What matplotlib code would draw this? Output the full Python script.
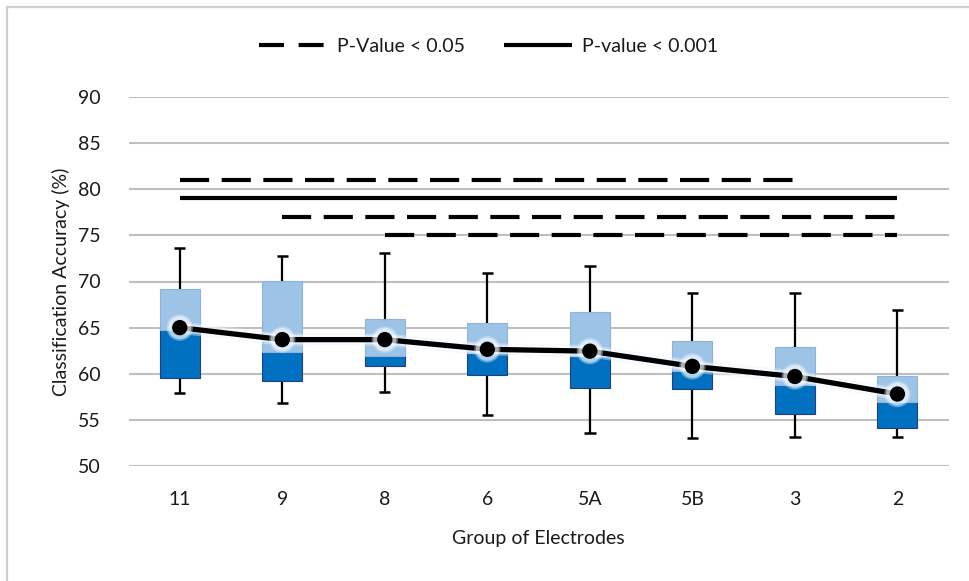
import matplotlib
matplotlib.use("Agg")
import matplotlib.pyplot as plt
import matplotlib.patheffects as pe
from matplotlib.lines import Line2D
import numpy as np

plt.rcParams['font.family'] = ['Lato', 'DejaVu Sans']

# data
groups = ['11', '9', '8', '6', '5A', '5B', '3', '2']
whisker_max = [73.6, 72.8, 73.1, 70.9, 71.7, 68.7, 68.7, 66.9]
q3 = [69.2, 70.1, 65.9, 65.5, 66.7, 63.55, 62.95, 59.8]
median = [64.7, 62.4, 61.9, 62.3, 61.9, 60.3, 58.8, 56.9]
q1 = [59.5, 59.2, 60.8, 59.9, 58.5, 58.35, 55.6, 54.15]
whisker_min = [57.9, 56.8, 58.0, 55.5, 53.6, 53.0, 53.15, 53.15]
mean_acc = [65.0, 63.7, 63.7, 62.65, 62.45, 60.8, 59.7, 57.8]

# significance bars: level, first group index, last group index, kind
sig_level = [81, 79, 77, 75]
sig_start = [0, 0, 1, 2]
sig_end = [6, 7, 7, 7]
sig_kind = ['p05', 'p001', 'p05', 'p05']

dark_blue = '#0070C0'
light_blue = '#9DC3E6'
grid_col = '#BFBFBF'
text_col = '#1A1A1A'

fig = plt.figure(figsize=(9.69, 5.81), dpi=100)
ax = fig.add_axes([128.5 / 969, 1 - 466 / 581, 820.2 / 969, 369 / 581])

x = np.arange(len(groups))
q1 = np.array(q1)
q3 = np.array(q3)
median = np.array(median)
width = 0.39

# whiskers
ax.vlines(x, whisker_min, q1, color='black', lw=1.6, zorder=2)
ax.vlines(x, q3, whisker_max, color='black', lw=1.6, zorder=2)
ax.hlines(whisker_min, x - 0.055, x + 0.055, color='black', lw=1.8, zorder=2)
ax.hlines(whisker_max, x - 0.055, x + 0.055, color='black', lw=1.8, zorder=2)

# stacked box: q1 -> median (dark), median -> q3 (light)
ax.bar(x, median - q1, bottom=q1, width=width, color=dark_blue,
       edgecolor='#1F3F7F', linewidth=0.8, zorder=3)
ax.bar(x, q3 - median, bottom=median, width=width, color=light_blue,
       edgecolor='#8DB3DA', linewidth=0.8, zorder=3)

# mean line with soft white glow
ax.plot(x, mean_acc, color='black', lw=3.8, marker='o', markersize=10,
        zorder=5, solid_capstyle='round',
        path_effects=[pe.Stroke(linewidth=9, foreground='#E8F4FF', alpha=0.4),
                      pe.Stroke(linewidth=6.5, foreground='white', alpha=0.5),
                      pe.Normal()])

# significance lines
for lvl, s, e, k in zip(sig_level, sig_start, sig_end, sig_kind):
    if k == 'p05':
        ax.plot([s, e], [lvl, lvl], color='black', lw=3, dashes=(7, 3),
                solid_capstyle='butt', dash_capstyle='butt', zorder=4)
    else:
        ax.plot([s, e], [lvl, lvl], color='black', lw=3,
                solid_capstyle='butt', zorder=4)

ax.set_xlim(-0.5, len(groups) - 0.5)
ax.set_ylim(50, 90)
ax.set_yticks(np.arange(50, 91, 5))
ax.set_xticks(x)
ax.set_xticklabels(groups)
ax.yaxis.grid(True, color=grid_col, lw=1.5, zorder=0)
ax.set_axisbelow(True)
for s in ax.spines.values():
    s.set_visible(False)
ax.tick_params(length=0, labelsize=14, colors=text_col)
ax.tick_params(axis='y', pad=20)
ax.tick_params(axis='x', pad=18)

ax.set_xlabel('Group of Electrodes', fontsize=14, color=text_col, labelpad=16)
ax.set_ylabel('Classification Accuracy (%)', fontsize=14, color=text_col, labelpad=6)

handles = [
    Line2D([], [], color='black', lw=3, dashes=(6, 3.5), dash_capstyle='butt'),
    Line2D([], [], color='black', lw=3, solid_capstyle='butt'),
]
leg = fig.legend(handles, ['P-Value < 0.05', 'P-value < 0.001'], loc='center',
                 bbox_to_anchor=(0.504, 1 - 46 / 581), ncol=2, frameon=False,
                 fontsize=14, handlelength=3.5, handletextpad=0.5, columnspacing=2.0)
for t in leg.get_texts():
    t.set_color(text_col)

# chart border (top and left visible in the reference crop)
fig.add_artist(Line2D([7 / 969, 7 / 969], [0, 1 - 7 / 581], color='#D0D0D0', lw=1.6))
fig.add_artist(Line2D([7 / 969, 1], [1 - 7 / 581, 1 - 7 / 581], color='#D0D0D0', lw=1.6))

fig.savefig('out.png', dpi=100)
